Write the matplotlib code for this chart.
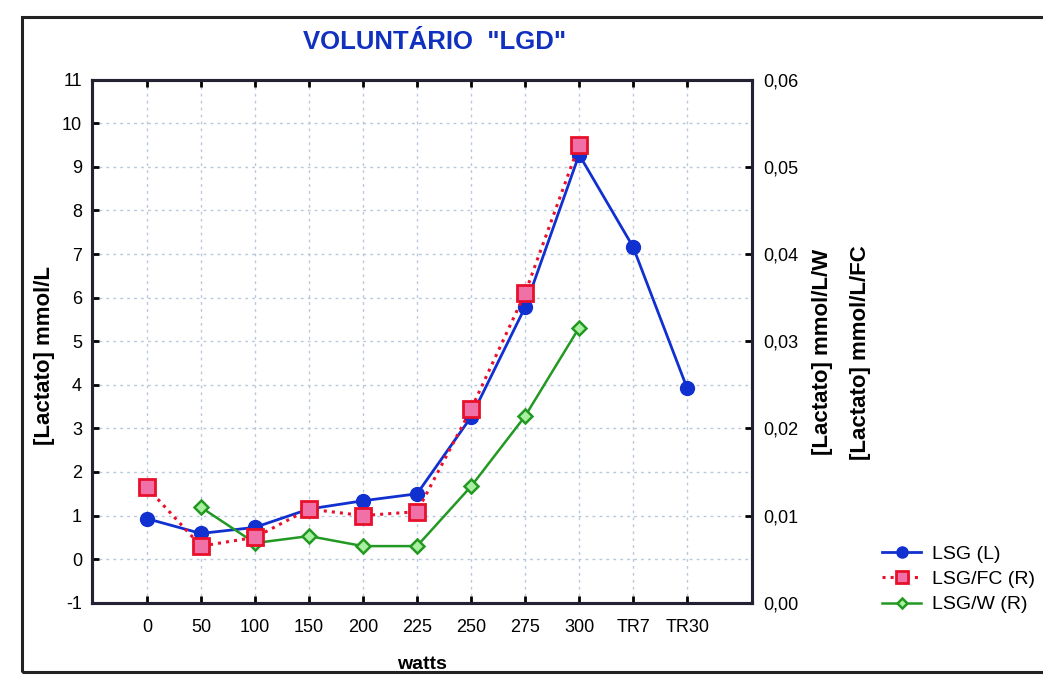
import matplotlib
matplotlib.use('Agg')
import matplotlib.pyplot as plt
from matplotlib.patches import Rectangle

plt.rcParams['font.family'] = ['Liberation Sans', 'DejaVu Sans']
plt.rcParams['axes.unicode_minus'] = False

# dados
categorias = ['0', '50', '100', '150', '200', '225', '250', '275', '300', 'TR7', 'TR30']
lsg = [0.93, 0.59, 0.73, 1.15, 1.34, 1.50, 3.26, 5.78, 9.28, 7.16, 3.92]
lsg_fc = [0.01325, 0.0065, 0.0075, 0.01075, 0.0100, 0.01045, 0.0222, 0.0355, 0.05255]
lsg_w = [None, 0.01095, 0.00685, 0.00765, 0.0065, 0.0065, 0.01335, 0.0214, 0.03155]

x = list(range(len(categorias)))

fig = plt.figure(figsize=(10.43, 6.75), dpi=100)
ax = fig.add_axes([0.088, 0.107, 0.633, 0.775])
ax2 = ax.twinx()

# moldura externa
fig.patches.append(Rectangle((0.021, 0.004), 1.2, 0.971, transform=fig.transFigure,
                             fill=False, edgecolor='#222222', linewidth=2.2))

azul = '#1030d0'
vermelho = '#e8102a'
verde = '#229922'

l1, = ax.plot(x, lsg, color=azul, linewidth=2, marker='o', markersize=10,
              markerfacecolor=azul, markeredgecolor=azul, label='LSG (L)', zorder=5)

xw = [i for i, v in enumerate(lsg_w) if v is not None]
yw = [v for v in lsg_w if v is not None]
l3, = ax2.plot(xw, yw, color=verde, linewidth=1.8, marker='D', markersize=7,
               markerfacecolor='#a8f0a0', markeredgecolor=verde, markeredgewidth=1.8,
               label='LSG/W (R)', zorder=4)
l2, = ax2.plot(x[:len(lsg_fc)], lsg_fc, color=vermelho, linewidth=2.2, linestyle=':',
               marker='s', markersize=11, markerfacecolor='#f070a8',
               markeredgecolor=vermelho, markeredgewidth=2, label='LSG/FC (R)', zorder=6)
ax2.set_zorder(ax.get_zorder() + 1)
ax.patch.set_visible(False)

ax.set_xlim(-1.02, 11.2)
ax.set_ylim(-1, 11)
ax2.set_ylim(0, 0.06)
ax.set_yticks(range(-1, 12))
ax2.set_yticks([0, 0.01, 0.02, 0.03, 0.04, 0.05, 0.06])
ax2.set_yticklabels(['0,00', '0,01', '0,02', '0,03', '0,04', '0,05', '0,06'])
ax.set_xticks(x)
ax.set_xticklabels(categorias)

ax.grid(True, color='#b8c8dc', linestyle=(0, (2, 3)), linewidth=1.0)
ax.tick_params(axis='both', direction='in', length=5, width=2, labelsize=13,
               top=True, pad=7)
ax.tick_params(axis='x', pad=12)
ax2.tick_params(axis='y', direction='in', length=5, width=2, labelsize=13, pad=8)

for a in (ax, ax2):
    for s in a.spines.values():
        s.set_linewidth(2.2)
        s.set_color('#222233')

fig.text(0.043, 0.474, '[Lactato] mmol/L', rotation=90, fontsize=16,
         fontweight='bold', ha='center', va='center')
ax.set_xlabel('watts', fontsize=14, fontweight='bold', labelpad=14)
fig.text(0.789, 0.478, '[Lactato] mmol/L/W', rotation=90, fontsize=16,
         fontweight='bold', ha='center', va='center')
fig.text(0.825, 0.478, '[Lactato] mmol/L/FC', rotation=90, fontsize=16,
         fontweight='bold', ha='center', va='center')

fig.text(0.417, 0.938, 'VOLUNTÁRIO  "LGD"', color='#1030c0', fontsize=18.5,
         fontweight='bold', ha='center', va='center')

leg = fig.legend(handles=[l1, l2, l3], loc='center left',
                 bbox_to_anchor=(0.846, 0.142), frameon=False, fontsize=14,
                 borderpad=0, borderaxespad=0,
                 handlelength=2.0, handletextpad=0.55, labelspacing=0.4,
                 markerscale=0.8)

fig.savefig('out.png', dpi=100)
